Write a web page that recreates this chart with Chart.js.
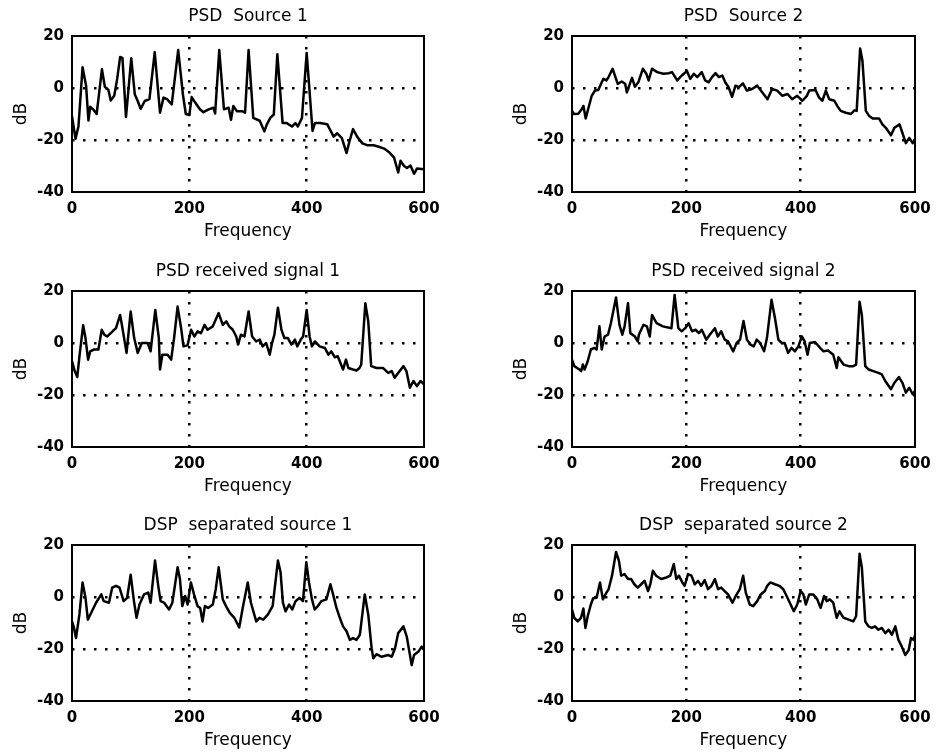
<!DOCTYPE html>
<html>
<head>
<meta charset="utf-8">
<script src="https://cdn.jsdelivr.net/npm/chart.js@4.4.0/dist/chart.umd.min.js"></script>
<style>
  html, body { margin: 0; padding: 0; background: #fff; }
  body { width: 938px; height: 753px; overflow: hidden; position: relative; }
  canvas { position: absolute; }
</style>
</head>
<body>
<canvas id="p0"></canvas>
<canvas id="p1"></canvas>
<canvas id="p2"></canvas>
<canvas id="p3"></canvas>
<canvas id="p4"></canvas>
<canvas id="p5"></canvas>
<script>
/* ------------- DATA ------------- */
const freqTicks  = [0, 200, 400, 600];
const freqLabels = ["0", "200", "400", "600"];
const dbTicks    = [-40, -20, 0, 20];
const dbLabels   = ["-40", "-20", "0", "20"];

const titles = [
  "PSD  Source 1", "PSD  Source 2",
  "PSD received signal 1", "PSD received signal 2",
  "DSP  separated source 1", "DSP  separated source 2"
];

// [frequency, dB]
const source1 = [
  [0,-10.8],[6,-19.5],[11,-14.8],[18,8],[24,0.9],[28,-12.5],[31,-7.2],[36,-8.2],[42,-10],
  [51,7.2],[56,0.5],[62,-0.7],[66,-4.8],[72,-3],[77,3.5],[82,11.9],[86,11.6],[92,-11.2],
  [101,11.4],[107,-2.4],[112,-5],[117,-8],[124,-5],[132,-4.3],[141,13.8],[150,-9.5],
  [156,-3.7],[162,-4.3],[170,-6.3],[181,14.6],[189,-2.4],[194,-10],[200,-10.4],[204,-3.5],
  [210,-5.6],[218,-8.2],[224,-9.3],[233,-8.2],[241,-7.6],[244,-9.8],[251,14.6],[259,-8.2],
  [267,-7.6],[271,-12.2],[275,-6.9],[281,-8.9],[290,-8.9],[295,-9.5],[301,14.6],[309,-11.5],
  [320,-12.6],[328,-16.7],[332,-14.1],[338,-11.5],[344,-10.2],[350,13],[359,-13.5],[366,-13.5],
  [375,-14.8],[381,-13.5],[385,-14.8],[392,-11.5],[400,13.5],[410,-16.5],[414,-13.5],[423,-13.5],
  [435,-13.9],[440,-16.1],[446,-18.7],[452,-17.4],[460,-19.3],[468,-25],[473,-20.5],[479,-15.8],
  [486,-18.7],[495,-21.3],[503,-22],[514,-22],[523,-22.6],[532,-23.3],[540,-24.6],[549,-26.8],
  [556,-32.5],[560,-28],[566,-30],[571,-30.8],[577,-29.8],[583,-33],[588,-31],[600,-31.3]
];

const source2 = [
  [0,-8.8],[3.5,-10],[11,-9.9],[17,-8.2],[20,-6.9],[24,-11.7],[29,-7.5],[34.5,-3],[40,-1],
  [46,-0.8],[52,2.2],[55,3.5],[60,2.9],[64,4.2],[71,7.4],[75,4.8],[80,1.6],[87,2.5],[93,1.6],
  [96,-1.7],[100,0.9],[105,3.9],[110,0.5],[116,2.2],[124,7.4],[130,5.5],[134,2.9],[140,7.4],
  [149,6.1],[160,5.5],[169,5.7],[175,6.1],[184,2.9],[192,4.8],[201,6.5],[207,3.5],[213,5.5],
  [219,4.2],[227,6.1],[233,2.9],[239,2.2],[245,4.2],[251,5.7],[257,4.2],[263,4.8],[268,2.2],
  [274,0.3],[280,-3.4],[286,0.9],[292,0.3],[299,1.8],[306,-1],[315,-0.4],[324,0.9],[333,-1.7],
  [342,-4.3],[350,-0.4],[359,-1],[368,-3],[377,-2.3],[385,-4.3],[394,-3],[403,-4.9],[411,-3],
  [415,-1],[426,-0.8],[432,-3.6],[438,-4.9],[444,-1],[450,-4.3],[459,-4.9],[464,-6.9],[470,-8.8],
  [479,-9.5],[488,-10],[494,-8.6],[498,-8.8],[504,15.2],[508,10.6],[514,-8.8],[520,-10.8],
  [526,-11.7],[537,-11.7],[543,-14],[549,-15.3],[558,-18.2],[564,-15.3],[573,-14],[578,-17.3],
  [584,-21.2],[590,-19.2],[596,-21.2],[600,-19.9]
];

const received1 = [
  [0,-7],[4.6,-10.8],[9,-13.1],[13,-4.5],[19,6.8],[23,1.9],[27.4,-6.4],[31,-3.2],[37.6,-2.5],
  [45,-2.5],[50.7,5.1],[55,3.2],[60,2.5],[66,3.8],[70,4.7],[75,5.7],[82,10.8],[85,7],[93,-3.8],
  [100,12.1],[106,1.9],[112,-3.8],[119,0],[129,0],[134,-3.2],[142,12.7],[148,1.9],[150,-10.2],
  [154,-4.5],[163,-4.5],[169,-6.4],[174,1.9],[180,14],[186,5.7],[190,-1.3],[197,-0.9],[203,5.1],
  [208.5,2.5],[214,4.5],[220,3.8],[226,7],[231,5.1],[240,6.4],[250,11.5],[257,7],[263,8.3],
  [268,6.4],[274,5.1],[280,2.5],[283,-0.6],[288,3.2],[294,2.5],[301,12.1],[307,2.5],[314,0.6],
  [320,1.3],[325,-1.3],[331,0],[337,-4.5],[341,0],[345,3.2],[351,13.6],[357,5.1],[362,1.9],
  [368,1.9],[374,-0.6],[380,1.3],[384,-1.3],[390,1.3],[394,2.5],[400,12.7],[405,2.5],[409,-1.3],
  [414,0.6],[422,-1.3],[431,-1.9],[437,-4.5],[442,-3.2],[448,-5.5],[453,-5.1],[462,-10.2],
  [467,-6.4],[471,-9.6],[479,-10.2],[485,-10.6],[490,-9.6],[493,-8.3],[500,15.3],[505,8.3],
  [510,-8.9],[519,-9.6],[530,-9.6],[539,-11.5],[545,-10.8],[550,-13.4],[556,-11.5],[565,-8.9],
  [570,-10.8],[576,-17.2],[582,-14.6],[588,-16.6],[594,-14.6],[600,-15.9]
];

const received2 = [
  [0,-6.4],[4,-8.9],[13,-10.2],[16,-10.8],[19,-8.3],[22,-10.2],[27.5,-7],[33,-2.5],[39,-1.9],
  [43,-2.5],[48,6.4],[52,-2.5],[57,2.5],[63,3.2],[68,7.6],[77,17.5],[83,7],[88,3.2],[92,6.4],
  [98,15.3],[102,3.8],[110,2.5],[115,0.6],[117,3.2],[125,7],[131,6.4],[136,2.5],[140,10.8],
  [148,7.6],[159,6.4],[168,6],[174,5.7],[179.5,18.5],[186,5.7],[192,4.5],[198,5.7],[204,7.6],
  [210,4.5],[216,5.1],[222,3.8],[227,5.1],[235,1.3],[241,3.2],[250,5.7],[255,2.5],[261,4.5],
  [267,1.3],[273,0.6],[282,-3.2],[288,0],[294,1.3],[300,8.5],[306,1.3],[312,-0.6],[318,-1.3],
  [323,1.3],[329,0],[336,-3.2],[341,1.9],[349,16.6],[355,9.6],[361,1.3],[367,0],[372,0],
  [378,-3.8],[384,-1.9],[390,-3.2],[396,-1.3],[402,2.5],[407,0.6],[412,-4.5],[416,0],[425,0.4],
  [434,-1.9],[440,-3.2],[448,-2.9],[457,-4.5],[463,-9.6],[466,-5.5],[475,-8.3],[484,-8.9],
  [492,-8.9],[497,-8.3],[503,15.9],[507,10.8],[513,-8.9],[519,-10.2],[527,-10.8],[536,-11.5],
  [542,-12.1],[548,-14.6],[558,-17.8],[564,-15.3],[572,-13.1],[578,-15.3],[584,-19.1],
  [590,-17.2],[596,-19.7],[600,-18.5]
];

const separated1 = [
  [0,-9.4],[3.4,-11.9],[6.8,-15.8],[12.6,-6.8],[18,5.6],[23,-0.3],[27,-8.7],[34,-5.5],[41,-2.2],
  [50,1],[54,-1.6],[63,-2.2],[68.5,3.6],[75,4.3],[81,3.6],[88,-1.6],[94,-0.3],[100,8.6],
  [105.6,-1.6],[110,-8],[115,-2.9],[122.7,1],[130,1.7],[134,-2.2],[141.5,14],[147,4.3],
  [151,-1.6],[157,-2.2],[165.5,-4.8],[171,-2.2],[180,11.4],[184,6.9],[188,-3.5],[193,0.4],
  [197,-2.9],[202.6,5.6],[208,1],[214,-3.5],[218.5,-4.2],[222.5,-9.4],[226.5,-3.5],[232,-4.2],
  [240,-2.9],[245,3],[250,11.4],[257,-0.9],[262.5,-3.5],[269,-6.1],[276.7,-8],[285,-11.7],
  [291,-4.2],[299.6,5.6],[305,-2.2],[314,-9.4],[319.5,-8],[326,-8.7],[333.8,-6.8],[342,-3.5],
  [351,14],[355.5,9.5],[359.5,-2.2],[364,-5.5],[370,-2.9],[375.5,-4.8],[381,-1.6],[388,-0.3],
  [393.7,-1.6],[399.4,13.4],[404,5.6],[409,-0.9],[413.7,-4.8],[419,-3.5],[425,-1.6],[433.7,-0.9],
  [440.5,4.9],[445,1],[450.8,-4.2],[456.5,-8],[462,-11.3],[468,-13.2],[473.6,-16.5],[479,-15.8],
  [485,-16.5],[490.7,-14.5],[499,1],[505,-6.8],[510.7,-19.7],[513.6,-23.6],[519,-22],
  [527.8,-23],[539,-22.3],[545,-23],[550.6,-19.7],[556,-13.9],[565,-11.3],[570.6,-15.2],
  [579,-26.2],[583,-22.3],[590.6,-21],[596,-19.1],[600,-20.4]
];

const separated2 = [
  [0,-4.8],[4,-8],[10,-9.4],[15.8,-8],[19.9,-4.4],[23.4,-11.9],[27.5,-7.4],[33,-2.9],[37,-0.5],
  [43,-0.3],[49,5.6],[54,-0.9],[58.5,1],[64,3],[70,8.2],[77,17.3],[82,14],[86,8.2],[92,8.8],
  [98,6.9],[103.5,6.9],[109,4.9],[115,3.6],[121,4.9],[127,6.2],[133,2.3],[137,4.9],[141.5,10.1],
  [147,8.2],[156,6.9],[165,7.5],[172,8.2],[178,12.7],[182.5,6.9],[187,8.2],[193,5.6],[197,4.3],
  [203,8.8],[209,8.2],[214.6,4.9],[220.5,6.2],[226,4.3],[232,6.5],[238,3],[244,4.3],[250,6.9],
  [255.5,3],[261,3.6],[267,2.3],[273,1],[280.7,-2.2],[286.5,0.4],[293.6,3],[299.4,8.2],[304,1.7],
  [311,-2.9],[317,-3.5],[324,-1.6],[330,1],[337.4,2.3],[341.5,4.3],[347,5.6],[355,4.9],
  [362.6,4.3],[369.6,3],[375.4,0.4],[381,-2.2],[388,-5.5],[394,-2.9],[400,2.3],[404.7,1],
  [409,-2.9],[415,1],[422,1],[429,-0.9],[435,-4.2],[441,0.4],[445.6,-1.6],[451,-0.9],[457,-2.2],
  [463,-8],[468,-5.5],[475,-8],[484,-8.7],[492,-9.4],[497,-7.4],[503,16.6],[507,11.4],
  [513,-9.4],[518.7,-11.3],[524.6,-11.9],[530,-11.3],[536,-12.6],[542,-11.9],[548,-13.9],
  [554,-12.6],[559.6,-14.5],[565.5,-11.3],[571,-16.5],[577,-19.1],[583,-22.3],[589,-20.4],
  [593,-15.8],[598,-16.5],[600,-14.5]
];

const seriesList = [source1, source2, received1, received2, separated1, separated2];

/* ------------- LAYOUT ------------- */
const ROW_TOPS = [0, 255, 509];
const COL = [
  {left: 0,   width: 450, padRight: 26},
  {left: 500, width: 438, padRight: 23}
];
const CANVAS_H = 242;

Chart.defaults.font.family = "'DejaVu Sans', sans-serif";
Chart.defaults.color = "#000";

const frame = {
  id: "frame",
  afterDraw(chart){
    const {ctx, chartArea: a} = chart;
    ctx.save();
    ctx.strokeStyle = "#000";
    ctx.lineWidth = 2;
    ctx.strokeRect(a.left, a.top, a.right - a.left, a.bottom - a.top);
    ctx.restore();
  }
};

const edgeColor = (lo, hi) => c =>
  (c.tick && (c.tick.value === lo || c.tick.value === hi)) ? "rgba(0,0,0,0)" : "#000";

function drawPanel(i){
  const col = COL[i % 2];
  const cv = document.getElementById("p" + i);
  cv.width = col.width;
  cv.height = CANVAS_H;
  cv.style.left = col.left + "px";
  cv.style.top = ROW_TOPS[Math.floor(i / 2)] + "px";

  new Chart(cv, {
    type: "line",
    data: {
      datasets: [{
        data: seriesList[i].map(p => ({x: p[0], y: p[1]})),
        borderColor: "#000",
        borderWidth: 2.5,
        borderJoinStyle: "round",
        pointRadius: 0,
        tension: 0,
        fill: false
      }]
    },
    options: {
      responsive: false,
      animation: false,
      layout: {padding: {left: 0, right: col.padRight, top: 0, bottom: 0}},
      plugins: {
        legend: {display: false},
        tooltip: {enabled: false},
        title: {
          display: true,
          text: titles[i],
          fullSize: false,
          font: {size: 17, weight: "normal"},
          padding: {top: 6, bottom: 9.6}
        }
      },
      scales: {
        x: {
          type: "linear",
          min: 0, max: 600,
          afterBuildTicks: s => { s.ticks = freqTicks.map(v => ({value: v})); },
          afterFit: s => { s.height = 50; s.paddingLeft = 0; s.paddingRight = 0; },
          ticks: {
            callback: (v, k) => freqLabels[k],
            font: {size: 15, weight: "bold"},
            padding: 8, maxRotation: 0, autoSkip: false
          },
          grid: {color: edgeColor(0, 600), lineWidth: 2.5, drawTicks: false},
          border: {display: false, dash: [2.5, 8.5]},
          title: {display: true, text: "Frequency", font: {size: 17}, padding: {top: 0, bottom: 0}}
        },
        y: {
          min: -40, max: 20,
          afterBuildTicks: s => { s.ticks = dbTicks.map(v => ({value: v})); },
          afterFit: s => { s.width = 72; },
          ticks: {
            callback: (v, k) => dbLabels[k],
            font: {size: 15, weight: "bold"},
            padding: 8
          },
          grid: {color: edgeColor(-40, 20), lineWidth: 2.5, drawTicks: false},
          border: {display: false, dash: [2.5, 8.5]},
          title: {display: true, text: "dB", font: {size: 17}, padding: {top: 11, bottom: 0}}
        }
      }
    },
    plugins: [frame]
  });
}

for (let i = 0; i < 6; i++) drawPanel(i);
</script>
</body>
</html>
